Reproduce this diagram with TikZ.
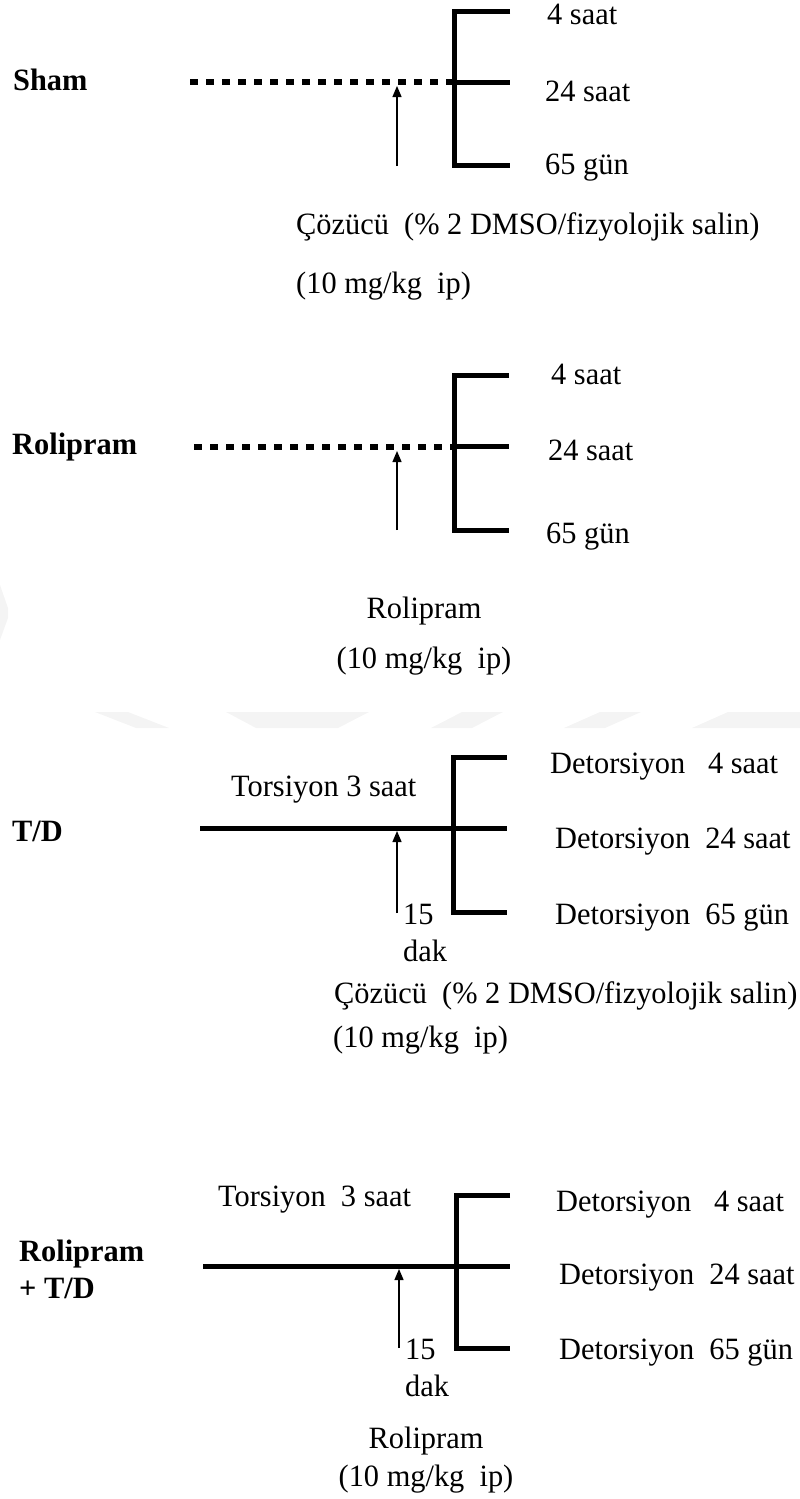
\documentclass[tikz,border=0pt]{standalone}
\usepackage{fontspec}
\setmainfont{Liberation Serif}[FakeStretch=0.98]
\usetikzlibrary{arrows.meta}
\begin{document}
\begin{tikzpicture}[x=1pt,y=-1pt,
  txt/.style={font=\fontsize{31}{35}\selectfont, inner sep=0pt, anchor=base west},
  ctxt/.style={txt, anchor=base},
  lbl/.style={font=\fontsize{31}{35}\selectfont\bfseries, inner sep=0pt, anchor=base west},
  brk/.style={line width=5pt},
  dots/.style={line width=6.5pt, dash pattern=on 7.5pt off 8.5pt},
  solidl/.style={line width=5pt},
  arr/.style={line width=1.3pt, -{Triangle[length=11pt,width=9pt]}},
  wm/.style={fill=gray!9, draw=none}]
\path[use as bounding box] (0,0) rectangle (800,1499);
% faint watermark
\fill[wm] (95,712) -- (128,712) -- (169,728) -- (136,728) -- cycle;
\fill[wm] (226,712) -- (369,712) -- (338,728) -- (256,728) -- cycle;
\fill[wm] (462,712) -- (503,712) -- (472,728) -- (431,728) -- cycle;
\fill[wm] (600,712) -- (641,712) -- (605,728) -- (564,728) -- cycle;
\fill[wm] (728,712) -- (800,712) -- (800,728) -- (692,728) -- cycle;
\fill[wm] (0,585) -- (8,608) -- (8,618) -- (0,640) -- cycle;

% ---------- Panel 1: Sham ----------
\node[lbl] (g1) at (13,90) {Sham};
\coordinate (d1s) at (190,82); \coordinate (d1e) at (452,82);
\draw[dots] (d1s) -- (d1e);
\coordinate (b1t) at (510,11); \coordinate (b1c) at (454,165);
\coordinate (b1b) at (510,165); \coordinate (b1x) at (454,82); \coordinate (b1m) at (510,82);
\draw[brk] (b1t) -| (b1c) -- (b1b);
\draw[brk] (b1x) -- (b1m);
\coordinate (a1s) at (397,166); \coordinate (a1e) at (397,86);
\draw[arr] (a1s) -- (a1e);
\node[txt] (t1a) at (547,24) {4 saat};
\node[txt] (t1b) at (545,101) {24 saat};
\node[txt] (t1c) at (545,174) {65 gün};
\node[txt] (s1a) at (296,234) {Çözücü\ \ (\% 2 DMSO/fizyolojik salin)};
\node[txt] (s1b) at (296,293) {(10 mg/kg\ \ ip)};

% ---------- Panel 2: Rolipram ----------
\node[lbl] (g2) at (12,454) {Rolipram};
\coordinate (d2s) at (194,447); \coordinate (d2e) at (452,447);
\draw[dots] (d2s) -- (d2e);
\coordinate (b2t) at (509,375); \coordinate (b2c) at (454,530);
\coordinate (b2b) at (509,530); \coordinate (b2x) at (454,446); \coordinate (b2m) at (509,446);
\draw[brk] (b2t) -| (b2c) -- (b2b);
\draw[brk] (b2x) -- (b2m);
\coordinate (a2s) at (397,530); \coordinate (a2e) at (397,451);
\draw[arr] (a2s) -- (a2e);
\node[txt] (t2a) at (551,384) {4 saat};
\node[txt] (t2b) at (548,460) {24 saat};
\node[txt] (t2c) at (546,543) {65 gün};
\node[ctxt] (s2a) at (424,618) {Rolipram};
\node[ctxt] (s2b) at (424,668) {(10 mg/kg\ \ ip)};

% ---------- Panel 3: T/D ----------
\node[lbl] (g3) at (12,841) {T/D};
\node[txt] (tor3) at (231,796) {Torsiyon 3 saat};
\coordinate (l3s) at (200,828); \coordinate (l3e) at (507,828);
\draw[solidl] (l3s) -- (l3e);
\coordinate (b3t) at (507,757); \coordinate (b3c) at (453,912); \coordinate (b3b) at (507,912);
\draw[brk] (b3t) -| (b3c) -- (b3b);
\coordinate (a3s) at (397,913); \coordinate (a3e) at (397,831);
\draw[arr] (a3s) -- (a3e);
\node[txt] (t3a) at (550,773) {Detorsiyon\ \ \ 4 saat};
\node[txt] (t3b) at (555,848) {Detorsiyon\ \ 24 saat};
\node[txt] (t3c) at (555,924) {Detorsiyon\ \ 65 gün};
\node[txt] (m3a) at (403,924) {15};
\node[txt] (m3b) at (403,961) {dak};
\node[txt] (s3a) at (334,1003) {Çözücü\ \ (\% 2 DMSO/fizyolojik salin)};
\node[txt] (s3b) at (333,1047) {(10 mg/kg\ \ ip)};

% ---------- Panel 4: Rolipram + T/D ----------
\node[lbl] (g4a) at (19,1261) {Rolipram};
\node[lbl] (g4b) at (19,1298) {+ T/D};
\node[txt] (tor4) at (218,1206) {Torsiyon\ \ 3 saat};
\coordinate (l4s) at (203,1266); \coordinate (l4e) at (510,1266);
\draw[solidl] (l4s) -- (l4e);
\coordinate (b4t) at (510,1195); \coordinate (b4c) at (456,1348); \coordinate (b4b) at (510,1348);
\draw[brk] (b4t) -| (b4c) -- (b4b);
\coordinate (a4s) at (399,1348); \coordinate (a4e) at (399,1269);
\draw[arr] (a4s) -- (a4e);
\node[txt] (t4a) at (556,1211) {Detorsiyon\ \ \ 4 saat};
\node[txt] (t4b) at (559,1284) {Detorsiyon\ \ 24 saat};
\node[txt] (t4c) at (559,1359) {Detorsiyon\ \ 65 gün};
\node[txt] (m4a) at (405,1359) {15};
\node[txt] (m4b) at (405,1396) {dak};
\node[ctxt] (s4a) at (426,1448) {Rolipram};
\node[ctxt] (s4b) at (426,1486) {(10 mg/kg\ \ ip)};
\end{tikzpicture}
\end{document}
